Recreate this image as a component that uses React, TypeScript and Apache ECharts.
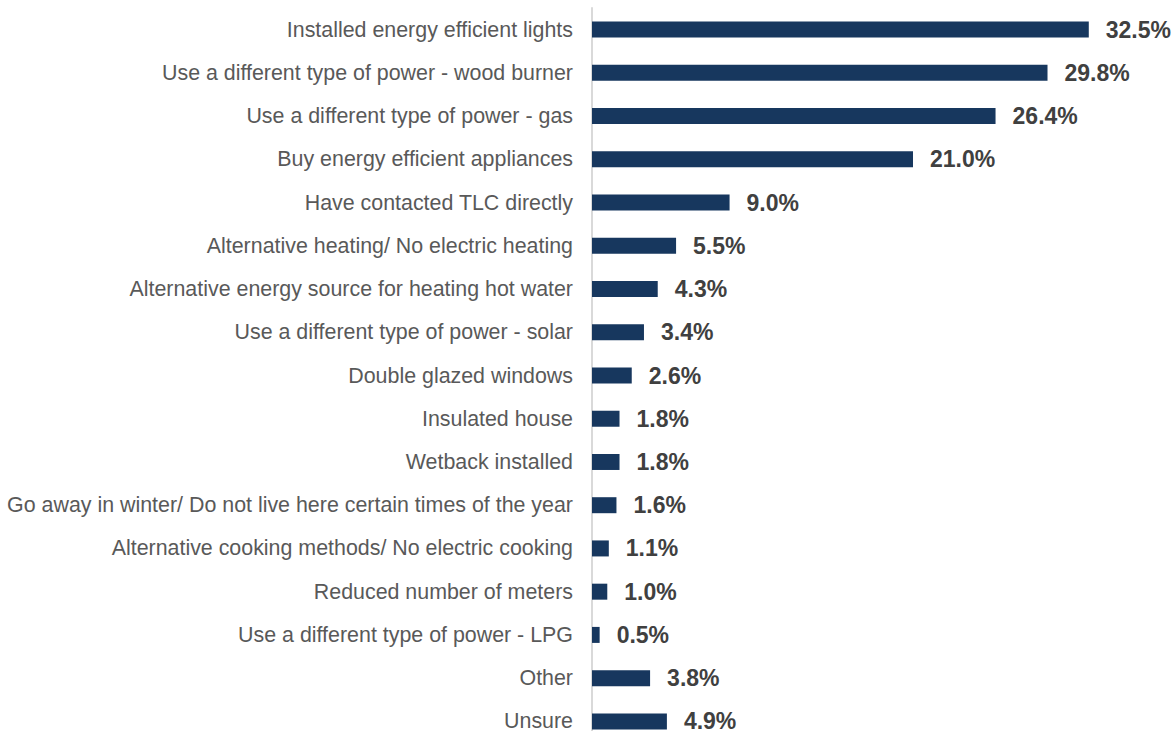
import React, { useEffect, useRef } from "react";
import * as echarts from "echarts";

const categories = [
  "Installed energy efficient lights",
  "Use a different type of power - wood burner",
  "Use a different type of power - gas",
  "Buy energy efficient appliances",
  "Have contacted TLC directly",
  "Alternative heating/ No electric heating",
  "Alternative energy source for heating hot water",
  "Use a different type of power - solar",
  "Double glazed windows",
  "Insulated house",
  "Wetback installed",
  "Go away in winter/ Do not live here certain times of the year",
  "Alternative cooking methods/ No electric cooking",
  "Reduced number of meters",
  "Use a different type of power - LPG",
  "Other",
  "Unsure",
];

const values = [32.5, 29.8, 26.4, 21.0, 9.0, 5.5, 4.3, 3.4, 2.6, 1.8, 1.8, 1.6, 1.1, 1.0, 0.5, 3.8, 4.9];

const FONT = "'Liberation Sans', Arial, sans-serif";

export default function App() {
  const ref = useRef<HTMLDivElement>(null);
  useEffect(() => {
    if (!ref.current) return;
    const chart = echarts.init(ref.current, null, { renderer: "svg" });
    chart.setOption({
      animation: false,
      grid: {
        left: 592,
        top: 8,
        width: 535,
        height: 735,
        containLabel: false,
        outerBoundsMode: "none",
      },
      xAxis: {
        type: "value",
        min: 0,
        max: 35,
        show: false,
      },
      yAxis: {
        type: "category",
        inverse: true,
        data: categories,
        axisLine: { show: true, lineStyle: { color: "#D9D9D9", width: 2 } },
        axisTick: { show: false },
        axisLabel: {
          margin: 19,
          fontFamily: FONT,
          fontSize: 21.4,
          lineHeight: 19,
          color: "#595959",
        },
      },
      series: [
        {
          type: "bar",
          data: values,
          barWidth: 16,
          itemStyle: { color: "#17375E" },
          label: {
            show: true,
            position: "right",
            distance: 17,
            formatter: (p: any) => p.value.toFixed(1) + "%",
            fontFamily: FONT,
            fontSize: 23,
            lineHeight: 19,
            fontWeight: "bold",
            color: "#404040",
          },
        },
      ],
    });
    return () => chart.dispose();
  }, []);
  return (
    <div
      ref={ref}
      style={{ position: "fixed", left: 0, top: 0, width: 1175, height: 731, background: "#fff" }}
    />
  );
}
